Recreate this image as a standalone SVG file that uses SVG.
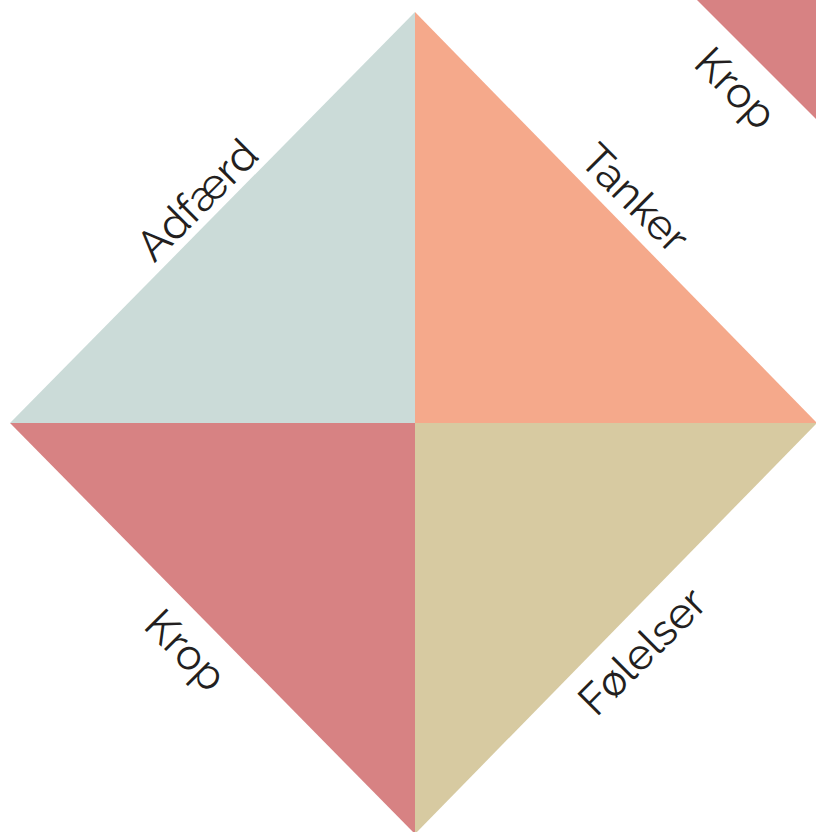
<svg xmlns="http://www.w3.org/2000/svg" width="816" height="832" viewBox="0 0 816 832">
<style>
.lbl{font-family:"Raleway","Lato","Open Sans","Liberation Sans",sans-serif;font-weight:400;font-size:43px;fill:#231f20;text-anchor:middle;dominant-baseline:central}
</style>
<rect width="816" height="832" fill="#ffffff"/>
<g id="adfaerd">
<polygon points="415,12 415,423 10,423" fill="#cbdbd8"/>
<text class="lbl" transform="translate(197,200) rotate(-45)">Adfærd</text>
</g>
<g id="tanker">
<polygon points="415,12 817,423 415,423" fill="#f5a98b"/>
<text class="lbl" transform="translate(635,198) rotate(45)">Tanker</text>
</g>
<g id="krop">
<polygon points="10,423 415,423 415,834" fill="#d78283"/>
<text class="lbl" transform="translate(186,650) rotate(45)">Krop</text>
</g>
<g id="foelelser">
<polygon points="415,423 817,423 415,834" fill="#d7caa1"/>
<text class="lbl" transform="translate(642,651) rotate(-45)">Følelser</text>
</g>
<g id="krop2">
<polygon points="697,0 830,0 830,133" fill="#d78283"/>
<text class="lbl" transform="translate(736,88) rotate(45)">Krop</text>
</g>
<g id="connectors"/>
</svg>
